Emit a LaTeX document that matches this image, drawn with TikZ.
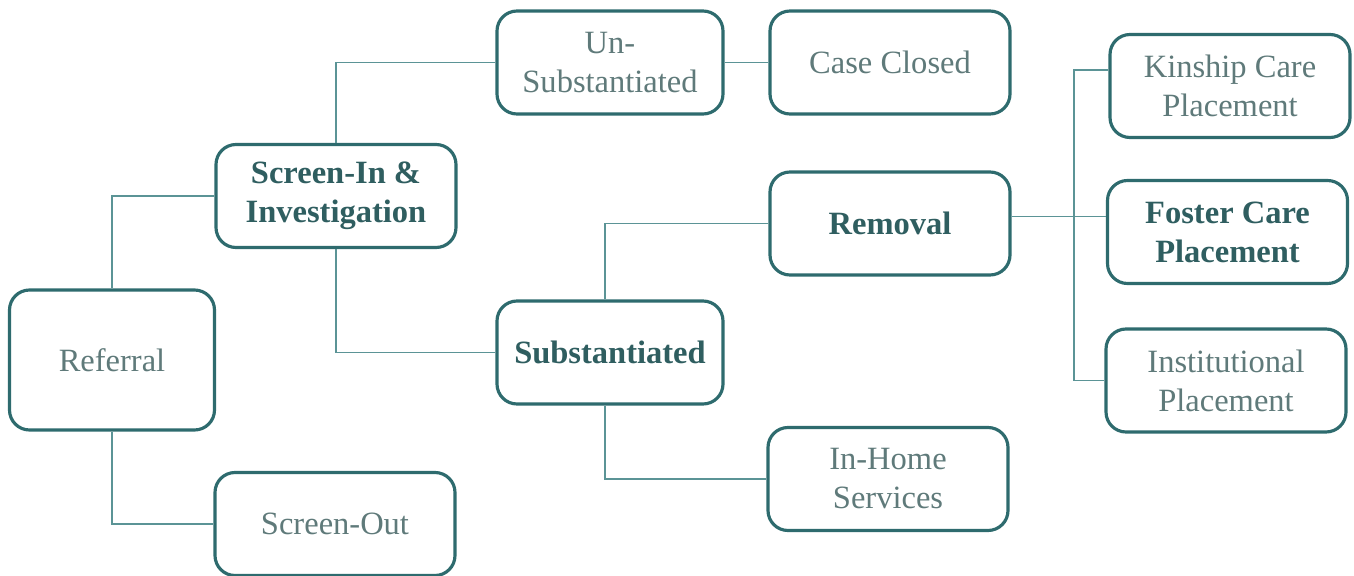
\documentclass[tikz,border=0pt]{standalone}
\usepackage{fontspec}
\setmainfont{Liberation Serif}
\definecolor{boxc}{HTML}{2E6B6E}
\definecolor{linec}{HTML}{5B9496}
\definecolor{txtc}{HTML}{5F7A7A}
\definecolor{boldc}{HTML}{2F5E60}
\tikzset{
    box/.style={draw=boxc, line width=1.8pt, rounded corners=0.4cm, fill=white,
        minimum width=4.8cm, minimum height=2.06cm, align=center,
        text=txtc, font=\fontsize{18.5}{22.2}\selectfont},
    keybox/.style={box, text=boldc, font=\fontsize{18.5}{22.2}\selectfont\bfseries},
    link/.style={draw=linec, line width=1.1pt}
}
\begin{document}
\begin{tikzpicture}
    \useasboundingbox (0,0) rectangle (27.08,-11.52);

    % Boxes, left to right
    \node[box, minimum width=4.1cm, minimum height=2.8cm] (referral) at (2.24,-7.2) {Referral};
    \node[box] (screenout) at (6.7,-10.48) {Screen-Out};
    \node[keybox] (screenin) at (6.72,-3.92) {Screen-In \&\\Investigation};

    \node[box, minimum width=4.52cm] (unsub) at (12.2,-1.25) {Un-\\Substantiated};
    \node[keybox, minimum width=4.52cm] (subst) at (12.2,-7.05) {Substantiated};

    \node[box] (closed) at (17.8,-1.25) {Case Closed};
    \node[keybox] (removal) at (17.8,-4.47) {Removal};
    \node[box] (inhome) at (17.76,-9.58) {In-Home\\Services};

    \node[box] (kinship) at (24.6,-1.72) {Kinship Care\\Placement};
    \node[keybox] (foster) at (24.55,-4.64) {Foster Care\\Placement};
    \node[box] (instit) at (24.52,-7.61) {Institutional\\Placement};

    % Elbow connectors
    \draw[link] (referral.north) |- (screenin.west);
    \draw[link] (referral.south) |- (screenout.west);
    \draw[link] (screenin.north) |- (unsub.west);
    \draw[link] (screenin.south) |- (subst.west);
    \draw[link] (unsub.east) -- (closed.west);
    \draw[link] ([xshift=-0.1cm]subst.north) |- (removal.west);
    \draw[link] ([xshift=-0.1cm]subst.south) |- (inhome.west);

    % Placement branches
    \coordinate (trunk) at (21.48,-4.32);
    \draw[link] ([yshift=0.14cm]removal.east) -- ([yshift=0.14cm]removal.east -| foster.west);
    \draw[link] ([yshift=0.32cm]kinship.west) -| (trunk) |- (instit.west);
\end{tikzpicture}
\end{document}
